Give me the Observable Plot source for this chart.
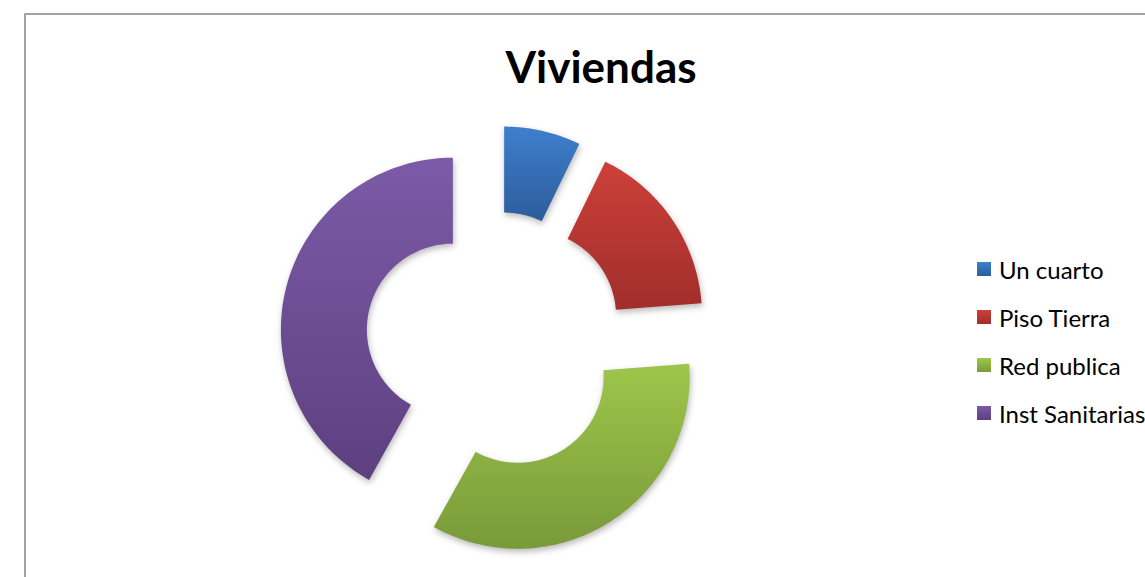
<!DOCTYPE html>
<html>
<head>
<meta charset="utf-8">
<script src="https://cdn.jsdelivr.net/npm/d3@7"></script>
<script src="https://cdn.jsdelivr.net/npm/@observablehq/plot@0.6"></script>
<style>
  html, body { margin: 0; padding: 0; background: #fff; }
  body { width: 1145px; height: 577px; overflow: hidden; position: relative; font-family: Lato, "Liberation Sans", sans-serif; }
  #frame { position: absolute; left: 24px; top: 13px; width: 1154px; height: 620px; border: 2px solid #a3a3a3; box-sizing: border-box; }
  #title { position: absolute; left: 24px; width: 1154px; top: 41px; text-align: center; font: bold 44px Lato, "Liberation Sans", sans-serif; line-height: 50px; color: #000; }
  #chart { position: absolute; left: 0; top: 0; }
  #chart svg path { filter: drop-shadow(1px 3px 3px rgba(0,0,0,0.28)); }
  #legend { position: absolute; left: 977px; top: 245px; white-space: nowrap; }
  .item { height: 48px; display: flex; align-items: center; font-size: 24px; color: #000; }
  .sw { width: 14px; height: 14px; margin-right: 8px; flex: none; }
</style>
</head>
<body>
<div id="frame"></div>
<div id="title"></div>
<div id="chart"></div>
<div id="legend"></div>
<script>
// ---- data ----
const chartTitle = "Viviendas";
const categories = ["Un cuarto", "Piso Tierra", "Red publica", "Inst Sanitarias"];
const values = [7.2, 16.6, 34.3, 41.9];
const topColors = ["#3e7fcd", "#cd403a", "#9ec64b", "#7c5aa7"];
const bottomColors = ["#2c5d9b", "#a02e2b", "#799a39", "#5d4080"];

// ---- layout ----
const W = 1145, H = 577;
const cx = 494, cy = 340, R = 172;
const innerRatio = 0.5, explode = 0.25;

document.getElementById("title").textContent = chartTitle;

const arcs = d3.pie().sort(null).value(d => d)(values);
const pts = [];
arcs.forEach((a, i) => {
  const mid = (a.startAngle + a.endAngle) / 2;
  const ox = explode * Math.sin(mid), oy = explode * Math.cos(mid);
  const n = 80;
  for (let k = 0; k <= n; k++) {
    const t = a.startAngle + (a.endAngle - a.startAngle) * k / n;
    pts.push({cat: categories[i], x: ox + Math.sin(t), y: oy + Math.cos(t)});
  }
  for (let k = n; k >= 0; k--) {
    const t = a.startAngle + (a.endAngle - a.startAngle) * k / n;
    pts.push({cat: categories[i], x: ox + innerRatio * Math.sin(t), y: oy + innerRatio * Math.cos(t)});
  }
});

const chart = Plot.plot({
  width: W,
  height: H,
  margin: 0,
  x: {domain: [-cx / R, (W - cx) / R], axis: null},
  y: {domain: [-(H - cy) / R, cy / R], axis: null},
  marks: categories.map((c, i) =>
    Plot.line(pts.filter(p => p.cat === c), {x: "x", y: "y", fill: `url(#grad${i})`, stroke: "none"})
  )
});
chart.style.background = "transparent";

const defs = d3.select(chart).insert("defs", ":first-child");
categories.forEach((c, i) => {
  const g = defs.append("linearGradient").attr("id", `grad${i}`).attr("x1", 0).attr("y1", 0).attr("x2", 0).attr("y2", 1);
  g.append("stop").attr("offset", "0%").attr("stop-color", topColors[i]);
  g.append("stop").attr("offset", "100%").attr("stop-color", bottomColors[i]);
});
document.getElementById("chart").appendChild(chart);

const legend = d3.select("#legend");
categories.forEach((c, i) => {
  const item = legend.append("div").attr("class", "item");
  item.append("div").attr("class", "sw").style("background", `linear-gradient(${topColors[i]}, ${bottomColors[i]})`);
  item.append("span").text(c);
});
</script>
</body>
</html>
